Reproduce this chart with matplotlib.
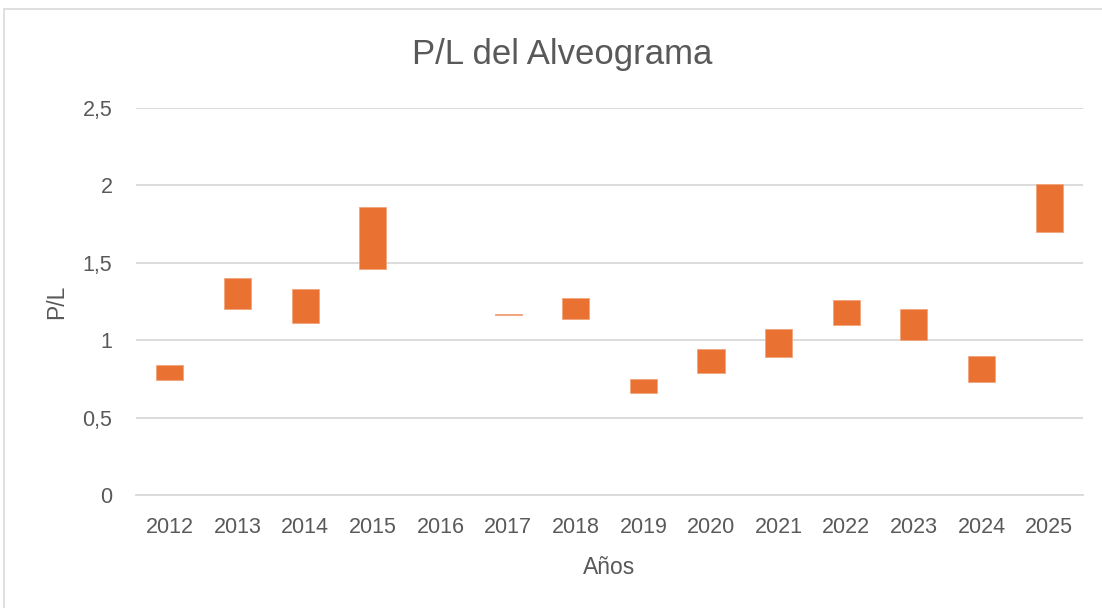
import matplotlib.pyplot as plt
from matplotlib.patches import Rectangle

# P/L range per year (low, high); 2016 has no data
years = ["2012", "2013", "2014", "2015", "2016", "2017", "2018",
         "2019", "2020", "2021", "2022", "2023", "2024", "2025"]
pl_low = [0.74, 1.20, 1.11, 1.46, None, 1.16, 1.14,
          0.66, 0.79, 0.89, 1.10, 1.00, 0.73, 1.70]
pl_high = [0.84, 1.40, 1.33, 1.86, None, 1.17, 1.27,
           0.75, 0.94, 1.07, 1.26, 1.20, 0.90, 2.01]
y_ticks = [0, 0.5, 1, 1.5, 2, 2.5]
y_tick_labels = ["0", "0,5", "1", "1,5", "2", "2,5"]

TEXT = "#595959"
GRID = "#d9d9d9"
ORANGE = "#e97132"

plt.rcParams["font.family"] = ["Liberation Sans", "DejaVu Sans"]

fig = plt.figure(figsize=(11.02, 6.08), dpi=100)
ax = fig.add_axes([0.1234, 0.1859, 0.8594, 0.6365])

xs = [i for i, lo in enumerate(pl_low) if lo is not None]
lows = [pl_low[i] for i in xs]
heights = [pl_high[i] - pl_low[i] for i in xs]
ax.bar(xs, heights, bottom=lows, width=0.4, color=ORANGE,
       edgecolor="#f4a57d", linewidth=0.6, zorder=3)

ax.set_xlim(-0.5, len(years) - 0.5)
ax.set_ylim(0, 2.5)
ax.set_xticks(range(len(years)))
ax.set_xticklabels(years)
ax.set_yticks(y_ticks)
ax.set_yticklabels(y_tick_labels)
ax.tick_params(length=0, labelsize=15.5, colors=TEXT)
ax.tick_params(axis="x", pad=16)
ax.tick_params(axis="y", pad=17)

ax.grid(axis="y", color=GRID, linewidth=1.3, zorder=0)
for side in ["top", "right", "left"]:
    ax.spines[side].set_visible(False)
ax.spines["bottom"].set_color(GRID)
ax.spines["bottom"].set_linewidth(1.3)

ax.set_xlabel("Años", fontsize=16.5, color=TEXT, labelpad=13)
ax.set_ylabel("P/L", fontsize=16.5, color=TEXT, labelpad=10)
fig.text(0.51, 0.91, "P/L del Alveograma", ha="center", va="center",
         fontsize=25, color=TEXT)

# light outer chart border
fig.patches.append(Rectangle((4 / 1102, -0.01), 1.02, 1 - 9 / 608 + 0.01,
                             transform=fig.transFigure, fill=False,
                             edgecolor=GRID, linewidth=1.2))

fig.savefig("out.png", dpi=100)
